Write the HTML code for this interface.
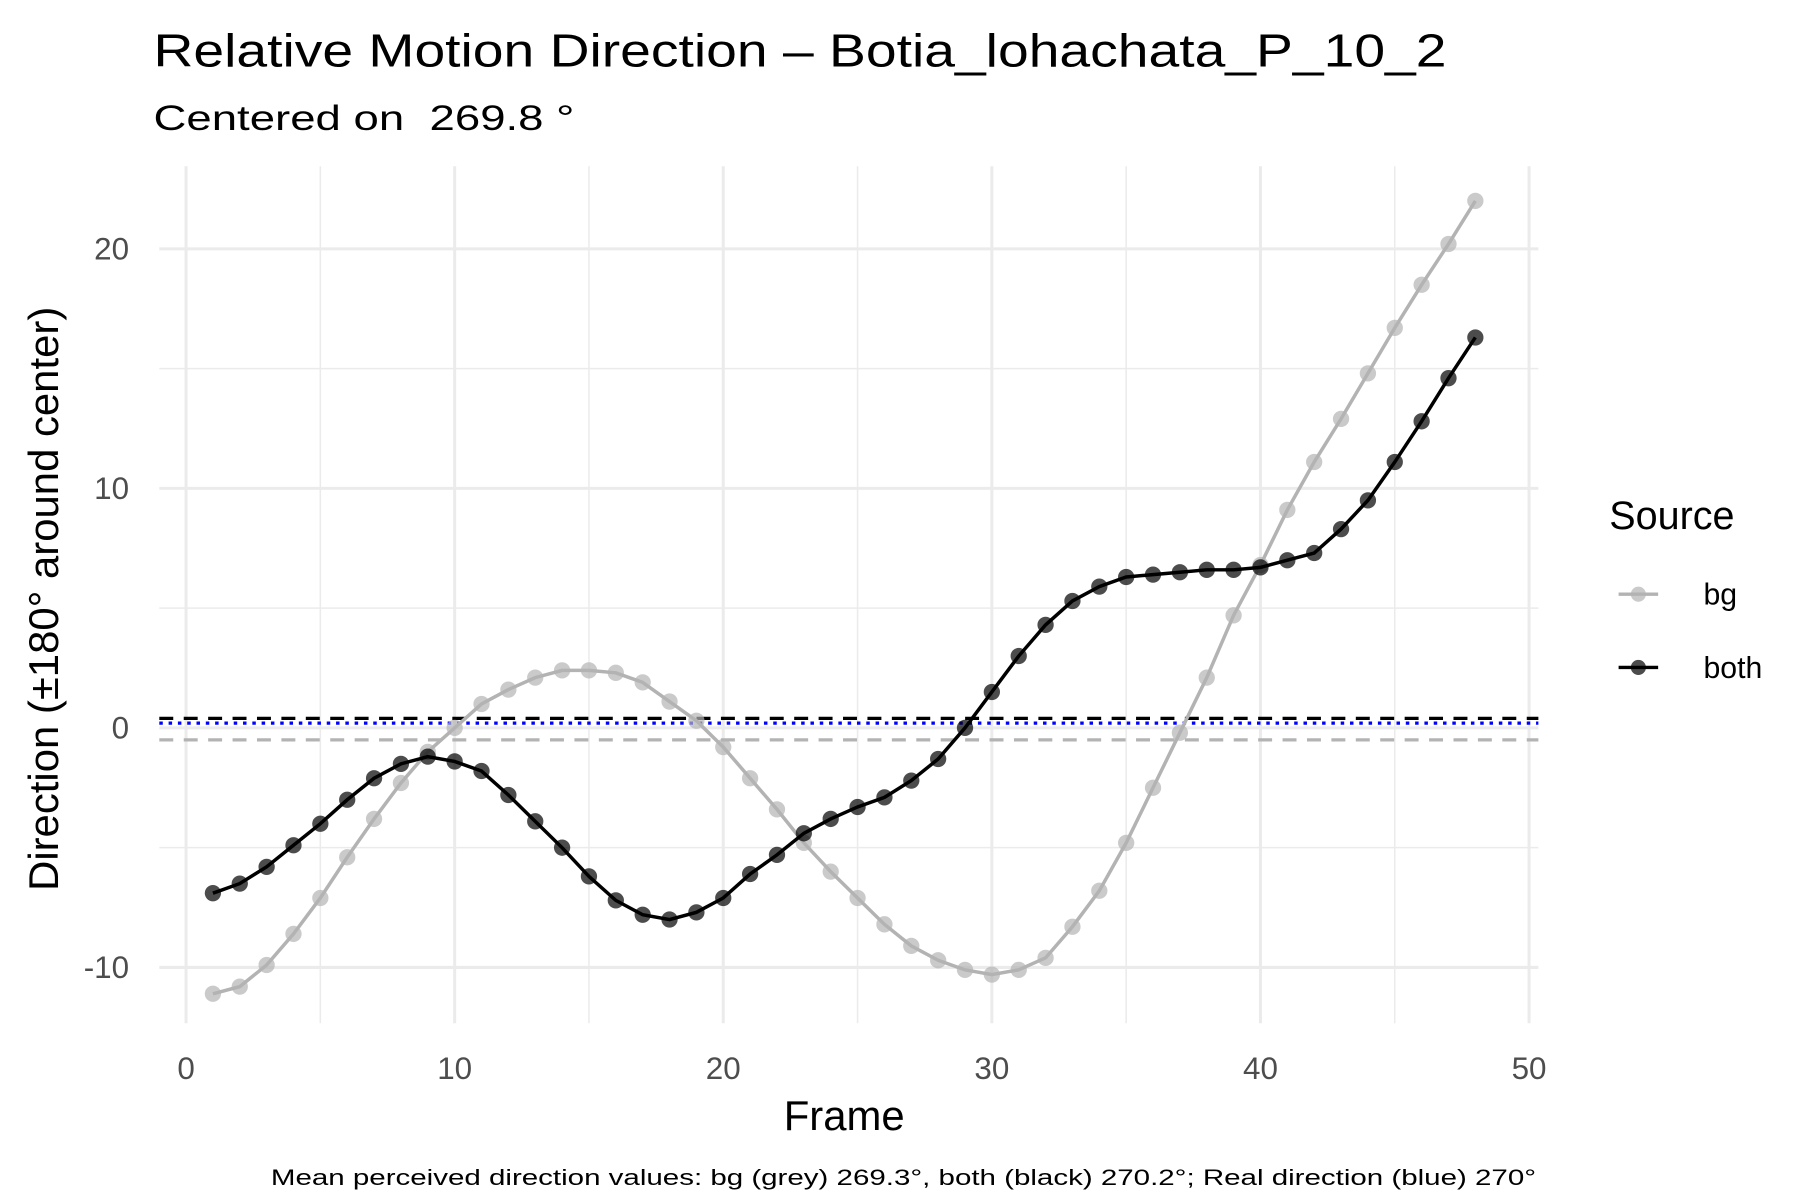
<!DOCTYPE html>
<html><head><meta charset="utf-8"><style>
html,body{margin:0;padding:0;background:#fff;}
svg{display:block;font-family:"Liberation Sans",Arial,sans-serif;}
</style></head><body>
<svg id="chart" width="1800" height="1200" viewBox="0 0 1548 1032" xmlns="http://www.w3.org/2000/svg">
<rect width="1548" height="1032" fill="#fff"/>
<text x="132" y="57" font-size="40" textLength="1112" lengthAdjust="spacingAndGlyphs" fill="#000">Relative Motion Direction – Botia_lohachata_P_10_2</text>
<text x="132" y="112" font-size="30" textLength="362" lengthAdjust="spacingAndGlyphs" fill="#000" xml:space="preserve">Centered on  269.8 °</text>
<g id="grid"></g>
<g id="refs"></g>
<g id="series"></g>
<g id="ticks"></g>
<text x="726" y="972" font-size="36" text-anchor="middle" fill="#000">Frame</text>
<text transform="translate(50,515) rotate(-90)" font-size="36" text-anchor="middle" fill="#000">Direction (±180° around center)</text>
<text x="233" y="1019" font-size="19" textLength="1088" lengthAdjust="spacingAndGlyphs" fill="#000">Mean perceived direction values: bg (grey) 269.3°, both (black) 270.2°; Real direction (blue) 270°</text>
<g>
<text x="1384" y="455" font-size="34" fill="#000">Source</text>
<g>
<line x1="1392" y1="511" x2="1426" y2="511" stroke="#b3b3b3" stroke-width="3"/>
<circle cx="1409" cy="511" r="6.5" fill="#b3b3b3" fill-opacity="0.7"/>
<text x="1465" y="520" font-size="26" fill="#000">bg</text></g>
<g>
<line x1="1392" y1="574" x2="1426" y2="574" stroke="#000" stroke-width="3"/>
<circle cx="1409" cy="574" r="6.5" fill="#000" fill-opacity="0.7"/>
<text x="1465" y="583" font-size="26" fill="#000">both</text></g>
</g>
</svg>
<script>
const frames = [];
for (let i = 1; i <= 48; i++) frames.push(i);
const bgValues = [-11.1,-10.8,-9.9,-8.6,-7.1,-5.4,-3.8,-2.3,-1.0,0.0,1.0,1.6,2.1,2.4,2.4,2.3,1.9,1.1,0.3,-0.8,-2.1,-3.4,-4.8,-6.0,-7.1,-8.2,-9.1,-9.7,-10.1,-10.3,-10.1,-9.6,-8.3,-6.8,-4.8,-2.5,-0.2,2.1,4.7,6.8,9.1,11.1,12.9,14.8,16.7,18.5,20.2,22.0];
const bothValues = [-6.9,-6.5,-5.8,-4.9,-4.0,-3.0,-2.1,-1.5,-1.2,-1.4,-1.8,-2.8,-3.9,-5.0,-6.2,-7.2,-7.8,-8.0,-7.7,-7.1,-6.1,-5.3,-4.4,-3.8,-3.3,-2.9,-2.2,-1.3,0.0,1.5,3.0,4.3,5.3,5.9,6.3,6.4,6.5,6.6,6.6,6.7,7.0,7.3,8.3,9.5,11.1,12.8,14.6,16.3];
const refValues = [0.4, -0.5, 0.2];
const xTicks = [0,10,20,30,40,50];
const yTicks = [-10,0,10,20];
const yMinor = [-5,5,15];
const xMinor = [5,15,25,35,45];

const X = v => 160 + v * (1315 - 160) / 50;
const Y = v => 626 - v * (626 - 214) / 20;
const PL = 137, PR = 1323, PT = 143, PB = 880;
const NS = "http://www.w3.org/2000/svg";
function mk(tag, attrs, parent){const e=document.createElementNS(NS,tag);for(const k in attrs)e.setAttribute(k,attrs[k]);parent.appendChild(e);return e;}
const grid=document.getElementById('grid'), refs=document.getElementById('refs'), series=document.getElementById('series'), ticks=document.getElementById('ticks');
yMinor.forEach(v=>{const l=mk('line',{x1:PL,x2:PR,y1:Y(v),y2:Y(v),stroke:'#ebebeb','stroke-width':1.3},grid);

});
xMinor.forEach(v=>{const l=mk('line',{x1:X(v),x2:X(v),y1:PT,y2:PB,stroke:'#ebebeb','stroke-width':1.3},grid);

});
yTicks.forEach(v=>{const l=mk('line',{x1:PL,x2:PR,y1:Y(v),y2:Y(v),stroke:'#ebebeb','stroke-width':2.6},grid);


const t=mk('text',{x:111,y:Y(v)+9,'font-size':27,'text-anchor':'end',fill:'#4d4d4d'},ticks);t.textContent=v;

});
xTicks.forEach(v=>{const l=mk('line',{x1:X(v),x2:X(v),y1:PT,y2:PB,stroke:'#ebebeb','stroke-width':2.6},grid);


const t=mk('text',{x:X(v),y:928,'font-size':27,'text-anchor':'middle',fill:'#4d4d4d'},ticks);t.textContent=v;

});
const r1=mk('line',{x1:PL,x2:PR,y1:Y(refValues[0]),y2:Y(refValues[0]),stroke:'#000','stroke-width':2.8,'stroke-dasharray':'12,9'},refs);


const r2=mk('line',{x1:PL,x2:PR,y1:Y(refValues[1]),y2:Y(refValues[1]),stroke:'#b3b3b3','stroke-width':2.8,'stroke-dasharray':'12,9'},refs);


const r3=mk('line',{x1:PL,x2:PR,y1:Y(refValues[2]),y2:Y(refValues[2]),stroke:'#0000ff','stroke-width':2.8,'stroke-dasharray':'3,5'},refs);


function drawSeries(vals,color,name){
  const d=vals.map((v,i)=>(i?'L':'M')+X(frames[i])+','+Y(v)).join(' ');
  const p=mk('path',{d:d,fill:'none',stroke:color,'stroke-width':3},series);
  
  
  vals.forEach((v,i)=>{const c=mk('circle',{cx:X(frames[i]),cy:Y(v),r:7,fill:color,'fill-opacity':0.7},series);
  
  });
}
drawSeries(bgValues,'#b3b3b3','bg');
drawSeries(bothValues,'#000000','both');
</script>
</body></html>
